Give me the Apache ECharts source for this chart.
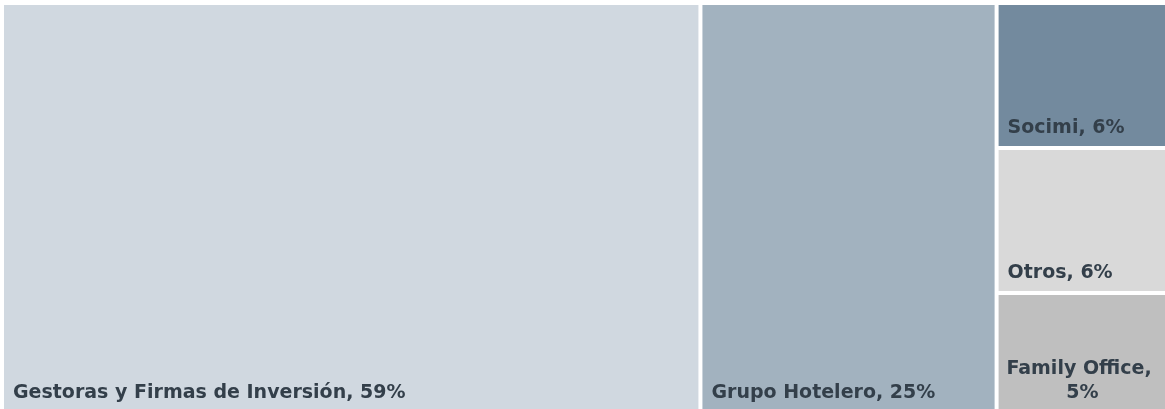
<!DOCTYPE html>
<html>
<head>
<meta charset="utf-8">
<script src="https://cdn.jsdelivr.net/npm/echarts@6/dist/echarts.min.js"></script>
<style>
html,body{margin:0;padding:0;background:#fff;}
#chart{width:1165px;height:409px;}
</style>
</head>
<body>
<div id="chart"></div>
<script>
const categories = ['Gestoras y Firmas de Inversión', 'Grupo Hotelero', 'Socimi', 'Otros', 'Family Office'];
const areaValues = [59.9, 25.4, 5.2, 5.2, 4.3];
const percentLabels = ['59%', '25%', '6%', '6%', '5%'];
const colors = ['#d0d8e0', '#a2b2bf', '#738a9e', '#d9d9d9', '#bfbfbf'];

const data = categories.map((c, i) => {
  const item = {
    name: c,
    value: areaValues[i],
    pct: percentLabels[i],
    itemStyle: { color: colors[i] }
  };
  if (i === 4) {
    item.label = { position: 'insideBottom', align: 'center' };
  }
  return item;
});

const chart = echarts.init(document.getElementById('chart'));
chart.setOption({
  animation: false,
  series: [{
    type: 'treemap',
    left: 4,
    top: 5,
    right: -1,
    bottom: -2,
    roam: false,
    nodeClick: false,
    breadcrumb: { show: false },
    sort: false,
    itemStyle: { borderWidth: 0, gapWidth: 4, borderColor: '#fff' },
    label: {
      show: true,
      position: 'insideBottomLeft',
      distance: 4,
      offset: [0, 3],
      color: '#333f4a',
      fontFamily: 'DejaVu Sans',
      fontWeight: 'bold',
      fontSize: 19,
      lineHeight: 24,
      overflow: 'break',
      formatter: p => p.name + ', ' + p.data.pct
    },
    upperLabel: { show: false },
    data: data
  }]
});
</script>
</body>
</html>
